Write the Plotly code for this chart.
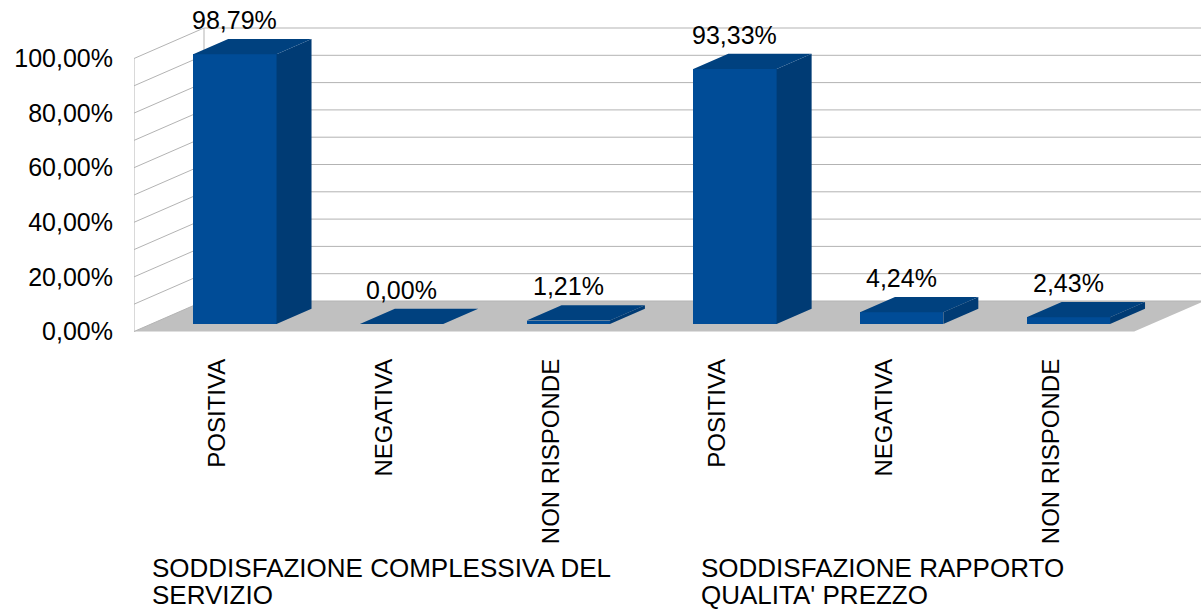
import plotly.graph_objects as go

# ---------------- data ----------------
categories = ["POSITIVA", "NEGATIVA", "NON RISPONDE", "POSITIVA", "NEGATIVA", "NON RISPONDE"]
values = [98.79, 0.00, 1.21, 93.33, 4.24, 2.43]
value_labels = ["98,79%", "0,00%", "1,21%", "93,33%", "4,24%", "2,43%"]
group_line1 = ["SODDISFAZIONE COMPLESSIVA DEL", "SODDISFAZIONE RAPPORTO"]
group_line2 = ["SERVIZIO", "QUALITA' PREZZO"]
y_tickvals = [0, 20, 40, 60, 80, 100]
y_ticktext = ["0,00%", "20,00%", "40,00%", "60,00%", "80,00%", "100,00%"]
grid_vals = list(range(0, 101, 10))

# ---------------- layout geometry ----------------
W, H = 1201, 610
L, R, T, B = 134, 0, 0, 265
PX_PER_CAT = 166.7
PX_PER_PCT = 2.73
Y0_PIX = 331.5
plot_h = H - T - B
X_MAX = (W - L - R) / PX_PER_CAT
Y_MIN = -(plot_h - Y0_PIX) / PX_PER_PCT
Y_MAX = Y0_PIX / PX_PER_PCT

DX = 70 / PX_PER_CAT      # depth offset in x units
DY = 30.5 / PX_PER_PCT    # depth offset in % units
ZF, ZB = 0.25, 0.75       # bar front / back depth
BW = 0.5                  # bar width (category units)
N = len(categories)

FRONT = "#004C97"
SIDE = "#003B74"
TOP = "#00417F"
FLOOR = "#C0C0C0"
GRID = "#B3B3B3"
FONT = "Liberation Sans, Arial, sans-serif"


def P(x, y, z):
    return x + z * DX, y + z * DY


def path(points):
    s = ""
    for k, (x, y) in enumerate(points):
        s += ("M" if k == 0 else "L") + f"{x},{y} "
    return s + "Z"


shapes = []
# floor
shapes.append(dict(type="path", xref="x", yref="y", layer="below",
                   path=path([P(0, 0, 0), P(N, 0, 0), P(N, 0, 1), P(0, 0, 1)]),
                   fillcolor=FLOOR, line=dict(width=0)))
# back wall gridlines
for v in grid_vals:
    x0, y0 = P(0, v, 1)
    x1, y1 = P(N, v, 1)
    shapes.append(dict(type="line", xref="x", yref="y", layer="below",
                       x0=x0, y0=y0, x1=x1, y1=y1, line=dict(color=GRID, width=1)))
    # left wall diagonals
    xa, ya = P(0, v, 0)
    shapes.append(dict(type="line", xref="x", yref="y", layer="below",
                       x0=xa, y0=ya, x1=x0, y1=y0, line=dict(color=GRID, width=1)))
# wall vertical edges
for z in (0, 1):
    xa, ya = P(0, 0, z)
    xb, yb = P(0, 100, z)
    shapes.append(dict(type="line", xref="x", yref="y", layer="below",
                       x0=xa, y0=ya, x1=xb, y1=yb, line=dict(color=GRID, width=1)))

fig = go.Figure()

# front faces
fig.add_trace(go.Bar(
    x=[i + 0.5 + ZF * DX for i in range(N)], y=values,
    base=[ZF * DY] * N, width=BW,
    marker=dict(color=FRONT, line=dict(width=0)),
    hoverinfo="skip", showlegend=False))

# top and side faces
sx, sy, tx, ty = [], [], [], []
for i, v in enumerate(values):
    xl = i + 0.5 - BW / 2
    xr = i + 0.5 + BW / 2
    for p in [P(xl, v, ZF), P(xr, v, ZF), P(xr, v, ZB), P(xl, v, ZB), P(xl, v, ZF)]:
        tx.append(p[0]); ty.append(p[1])
    tx.append(None); ty.append(None)
    for p in [P(xr, 0, ZF), P(xr, v, ZF), P(xr, v, ZB), P(xr, 0, ZB), P(xr, 0, ZF)]:
        sx.append(p[0]); sy.append(p[1])
    sx.append(None); sy.append(None)

fig.add_trace(go.Scatter(x=sx, y=sy, mode="lines", fill="toself", fillcolor=SIDE,
                         line=dict(width=0, color=SIDE), hoverinfo="skip", showlegend=False))
fig.add_trace(go.Scatter(x=tx, y=ty, mode="lines", fill="toself", fillcolor=TOP,
                         line=dict(width=0, color=TOP), hoverinfo="skip", showlegend=False))

annotations = []
for i, v in enumerate(values):
    annotations.append(dict(x=i + 0.5 + ZF * DX, y=v + ZB * DY, xref="x", yref="y",
                            text=value_labels[i], showarrow=False, yanchor="bottom",
                            xanchor="center", yshift=3,
                            font=dict(size=25, color="black", family=FONT)))


def py(pix):
    return (T + plot_h - pix) / plot_h


group_left_px = [150, 699]
for g in range(2):
    xp = (group_left_px[g] - L) / (W - L - R)
    annotations.append(dict(x=xp, y=py(551), xref="paper", yref="paper",
                            text=group_line1[g], showarrow=False, xanchor="left",
                            yanchor="top", font=dict(size=26, color="black", family=FONT)))
    annotations.append(dict(x=xp, y=py(578), xref="paper", yref="paper",
                            text=group_line2[g], showarrow=False, xanchor="left",
                            yanchor="top", font=dict(size=26, color="black", family=FONT)))

fig.update_layout(
    width=W, height=H,
    margin=dict(l=L, r=R, t=T, b=B, pad=0),
    paper_bgcolor="white", plot_bgcolor="white",
    shapes=shapes, annotations=annotations,
    showlegend=False, bargap=0,
    xaxis=dict(range=[0, X_MAX], tickvals=[i + 0.5 for i in range(N)], ticktext=categories,
               tickangle=-90, showgrid=False, zeroline=False, showline=False, ticks="",
               ticklabelstandoff=8, automargin=False,
               tickfont=dict(size=24, color="black", family=FONT), fixedrange=True),
    yaxis=dict(range=[Y_MIN, Y_MAX], tickvals=y_tickvals, ticktext=y_ticktext,
               showgrid=False, zeroline=False, showline=False, ticks="",
               ticklabelstandoff=20, automargin=False,
               tickfont=dict(size=25, color="black", family=FONT), fixedrange=True),
)

fig.write_html("out.html", config={"displayModeBar": False},
               post_script="document.body.style.margin='0';document.body.style.overflow='hidden';")
